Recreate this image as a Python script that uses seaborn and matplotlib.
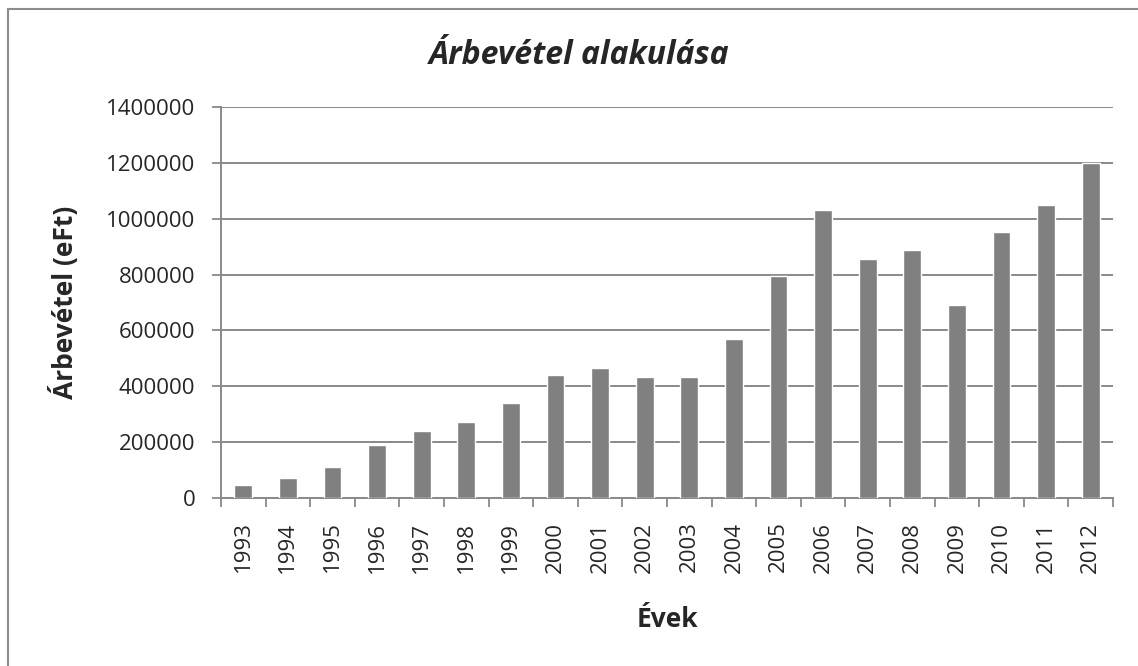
import matplotlib
matplotlib.use("Agg")
import matplotlib.pyplot as plt
import seaborn as sns
import pandas as pd
from matplotlib.patches import Rectangle
from matplotlib.ticker import FixedLocator

years = ["1993", "1994", "1995", "1996", "1997", "1998", "1999", "2000", "2001", "2002",
         "2003", "2004", "2005", "2006", "2007", "2008", "2009", "2010", "2011", "2012"]
revenue = [46000, 72000, 110000, 191000, 240000, 273000, 340000, 440000, 465000, 432000,
           432000, 571000, 794000, 1032000, 857000, 888000, 691000, 954000, 1050000, 1200000]
yticks = [0, 200000, 400000, 600000, 800000, 1000000, 1200000, 1400000]

df = pd.DataFrame({"Év": years, "Árbevétel": revenue})

sns.set_theme(style="white")
plt.rcParams['font.family'] = ['Open Sans', 'DejaVu Sans']

W, H = 1138, 666
fig = plt.figure(figsize=(W / 100, H / 100), dpi=100)
L, R, T, B = 221, 1113, 107, 498
ax = fig.add_axes([L / W, 1 - B / H, (R - L) / W, (B - T) / H])

sns.barplot(data=df, x="Év", y="Árbevétel", order=years, color="#808080",
            saturation=1, width=0.4, ax=ax, zorder=3)

gc = "#898989"
ax.set_ylim(0, 1400000)
ax.set_xlim(-0.5, len(years) - 0.5)
ax.set_yticks(yticks)
ax.set_yticklabels([str(v) for v in yticks], fontsize=16)
ax.yaxis.grid(True, color=gc, linewidth=1.4, zorder=0)
ax.set_axisbelow(True)

ax.set_xticks(range(len(years)))
ax.set_xticklabels(years, rotation=90, fontsize=16)
ax.tick_params(axis="x", which="major", length=0, pad=17)
ax.xaxis.set_minor_locator(FixedLocator([i - 0.5 for i in range(len(years) + 1)]))
ax.tick_params(axis="x", which="minor", length=6.5, width=1.3, color=gc, bottom=True)
ax.tick_params(axis="y", which="major", length=6.5, width=1.3, color=gc, left=True, pad=12)

for side in ["top", "right"]:
    ax.spines[side].set_visible(False)
for side in ["left", "bottom"]:
    ax.spines[side].set_color(gc)
    ax.spines[side].set_linewidth(1.4)

ax.set_xlabel("")
ax.set_ylabel("")
fig.text((L + R) / 2 / W, 1 - 627 / H, "Évek", ha="center", va="baseline",
         fontsize=19, fontweight="bold")
fig.text(64 / W, 1 - 302 / H, "Árbevétel (eFt)", ha="center", va="center", rotation=90,
         fontsize=19, fontweight="bold")

fig.text(579 / W, 1 - 64 / H, "Árbevétel alakulása", ha="center", va="baseline",
         fontsize=23, fontstyle="italic", fontweight="bold")

fig.patches.append(Rectangle((8 / W, -0.2), 1.5, 1 - 9 / H + 0.2, transform=fig.transFigure,
                             fill=False, edgecolor="#8c8c8c", linewidth=1.5))

fig.savefig("out.png", dpi=100, facecolor="white")
